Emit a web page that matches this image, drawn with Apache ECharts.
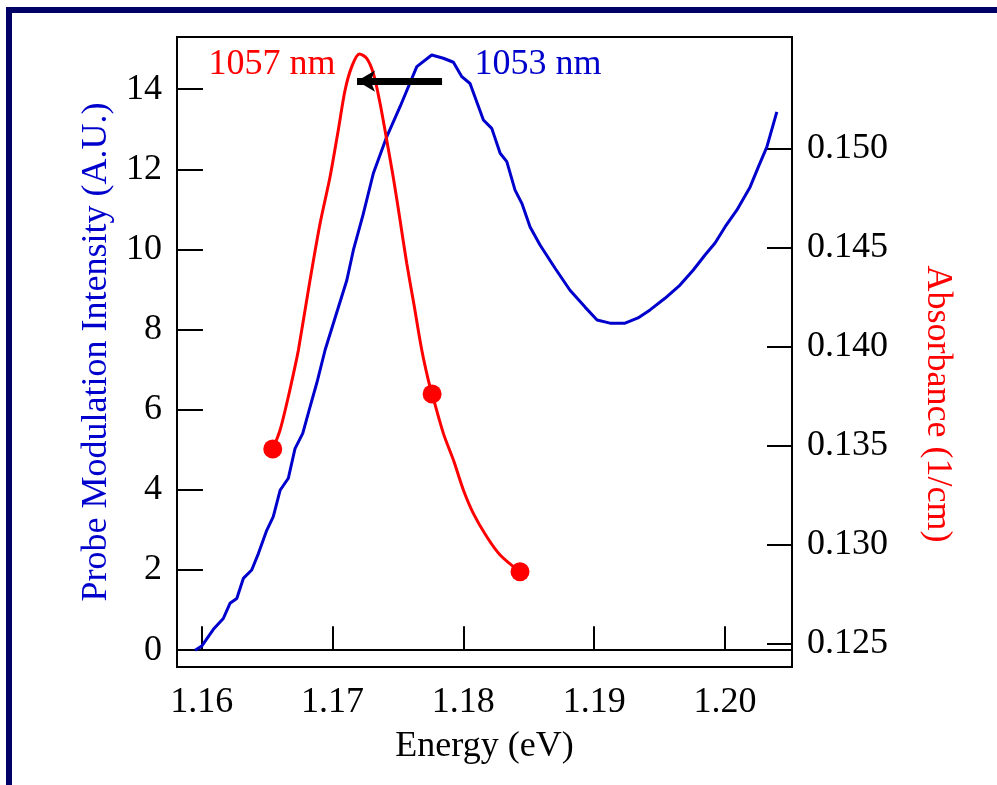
<!DOCTYPE html>
<html>
<head>
<meta charset="utf-8">
<script src="https://cdn.jsdelivr.net/npm/echarts@6/dist/echarts.min.js"></script>
<style>
  html, body { margin: 0; padding: 0; background: #fff; }
  #chart { width: 997px; height: 785px; }
</style>
</head>
<body>
<div id="chart"></div>
<script>
// probe modulation spectrum (blue, left axis)
var energyProbe = [1.15949, 1.16000, 1.16089, 1.16165, 1.16216, 1.16268, 1.16318, 1.16382, 1.16433, 1.16497,
  1.16547, 1.16599, 1.16662, 1.16713, 1.16772, 1.16828, 1.16879, 1.16943, 1.17019, 1.17109,
  1.17159, 1.17233, 1.17312, 1.17414, 1.17516, 1.17644, 1.17758, 1.17847, 1.17924, 1.17988,
  1.18051, 1.18153, 1.18217, 1.18281, 1.18332, 1.18395, 1.18447, 1.18510, 1.18586, 1.18701,
  1.18815, 1.18930, 1.19022, 1.19121, 1.19236, 1.19335, 1.19427, 1.19541, 1.19656, 1.19756,
  1.19847, 1.19924, 1.20000, 1.20090, 1.20192, 1.20255, 1.20320, 1.20396];
var intensityProbe = [0.00, 0.10, 0.52, 0.79, 1.17, 1.29, 1.79, 2.00, 2.41, 2.99,
  3.33, 3.99, 4.29, 5.03, 5.41, 6.07, 6.66, 7.49, 8.29, 9.23,
  9.98, 10.86, 11.90, 12.81, 13.56, 14.56, 14.85, 14.77, 14.67, 14.31,
  14.14, 13.23, 13.02, 12.40, 12.19, 11.48, 11.15, 10.56, 10.11, 9.53,
  8.98, 8.56, 8.24, 8.16, 8.16, 8.29, 8.49, 8.78, 9.11, 9.48,
  9.86, 10.16, 10.56, 10.98, 11.56, 12.06, 12.56, 13.43];

// absorbance fit curve (red, right axis)
var energyFit = [1.16543, 1.16599, 1.16662, 1.16713, 1.16739, 1.16828, 1.16905, 1.16981, 1.17044, 1.17096,
  1.17147, 1.17205, 1.17261, 1.17312, 1.17363, 1.17414, 1.17465, 1.17516, 1.17567, 1.17623,
  1.17682, 1.17732, 1.17761, 1.17847, 1.17924, 1.18000, 1.18076, 1.18179, 1.18281, 1.18433];
var absorbFit = [0.13485, 0.13581, 0.13749, 0.13901, 0.13985, 0.14338, 0.14625, 0.14860, 0.15096, 0.15298,
  0.15416, 0.15480, 0.15458, 0.15382, 0.15231, 0.15046, 0.14854, 0.14641, 0.14423, 0.14212,
  0.13985, 0.13833, 0.13763, 0.13564, 0.13429, 0.13278, 0.13160, 0.13042, 0.12950, 0.12865];

// measured absorbance points
var energyPts = [1.16543, 1.17761, 1.18433];
var absorbPts = [0.13485, 0.13763, 0.12865];

// ticks
var energyTicks = [1.16, 1.17, 1.18, 1.19, 1.20];
var intensityTicks = [0, 2, 4, 6, 8, 10, 12, 14];
var absorbTicks = [0.125, 0.130, 0.135, 0.140, 0.145, 0.150];

var font = 'Liberation Serif, Times New Roman, serif';
var blue = '#0000cc';
var red = '#ff0000';

function pairs(xs, ys) {
  return xs.map(function(x, i) { return [x, ys[i]]; });
}

var chart = echarts.init(document.getElementById('chart'));
chart.setOption({
  animation: false,
  backgroundColor: '#fff',
  graphic: [{
    type: 'rect',
    shape: { x: 9, y: 10, width: 1200, height: 1000 },
    style: { fill: 'none', stroke: '#000066', lineWidth: 6 },
    silent: true
  }],
  grid: {
    left: 177, top: 37, width: 615, height: 630,
    show: true, borderColor: '#000', borderWidth: 2, backgroundColor: 'transparent'
  },
  xAxis: {
    type: 'value', min: 1.15811, max: 1.20512,
    axisLine: { show: true, lineStyle: { color: '#000', width: 2 } },
    axisTick: { inside: true, length: 24, customValues: energyTicks, lineStyle: { color: '#000', width: 2 } },
    axisLabel: { customValues: energyTicks, margin: 18, fontSize: 36, fontFamily: font, color: '#000',
      formatter: function(v) { return v.toFixed(2); } },
    splitLine: { show: false },
    name: 'Energy (eV)', nameLocation: 'middle', nameGap: 62,
    nameTextStyle: { fontSize: 36, fontFamily: font, color: '#000' }
  },
  yAxis: [{
    type: 'value', min: -0.42, max: 15.3, position: 'left',
    axisLine: { show: true, lineStyle: { color: '#000', width: 2 } },
    axisTick: { inside: true, length: 26, customValues: intensityTicks, lineStyle: { color: '#000', width: 2 } },
    axisLabel: { customValues: intensityTicks, margin: 15, fontSize: 36, fontFamily: font, color: '#000' },
    splitLine: { show: false },
    name: 'Probe Modulation Intensity (A.U.)', nameLocation: 'middle', nameGap: 62, nameRotate: 90,
    nameTextStyle: { fontSize: 36, fontFamily: font, color: blue }
  }, {
    type: 'value', min: 0.12384, max: 0.155657, position: 'right',
    axisLine: { show: true, lineStyle: { color: '#000', width: 2 } },
    axisTick: { inside: true, length: 25, customValues: absorbTicks, lineStyle: { color: '#000', width: 2 } },
    axisLabel: { customValues: absorbTicks, margin: 15, fontSize: 36, fontFamily: font, color: '#000',
      formatter: function(v) { return v.toFixed(3); } },
    splitLine: { show: false },
    name: 'Absorbance (1/cm)', nameLocation: 'middle', nameGap: 127, nameRotate: -90,
    nameTextStyle: { fontSize: 36, fontFamily: font, color: red, padding: [0, 0, 0, 104] }
  }],
  series: [{
    name: 'Probe', type: 'line', yAxisIndex: 0,
    data: pairs(energyProbe, intensityProbe),
    showSymbol: false, symbol: 'none',
    lineStyle: { color: blue, width: 3 },
    markLine: {
      silent: true, symbol: ['none', 'arrow'], symbolSize: [16, 18],
      label: { show: false },
      lineStyle: { color: '#000', width: 7, type: 'solid' },
      data: [[{ coord: [1.17837, 14.2] }, { coord: [1.17187, 14.2] }]]
    },
    markPoint: {
      silent: true, symbol: 'rect', symbolSize: 1, itemStyle: { color: 'transparent' },
      label: { show: true, position: 'inside', fontSize: 36, fontFamily: font },
      data: [
        { coord: [1.18571, 14.62], label: { formatter: '1053 nm', color: blue } },
        { coord: [1.16537, 14.62], label: { formatter: '1057 nm', color: red } }
      ]
    }
  }, {
    name: 'Fit', type: 'line', yAxisIndex: 1,
    data: pairs(energyFit, absorbFit),
    smooth: 0.3, showSymbol: false, symbol: 'none',
    lineStyle: { color: red, width: 3 }
  }, {
    name: 'Absorbance', type: 'scatter', yAxisIndex: 1,
    data: pairs(energyPts, absorbPts),
    symbol: 'circle', symbolSize: 19,
    itemStyle: { color: red, opacity: 1 }
  }]
});
</script>
</body>
</html>
